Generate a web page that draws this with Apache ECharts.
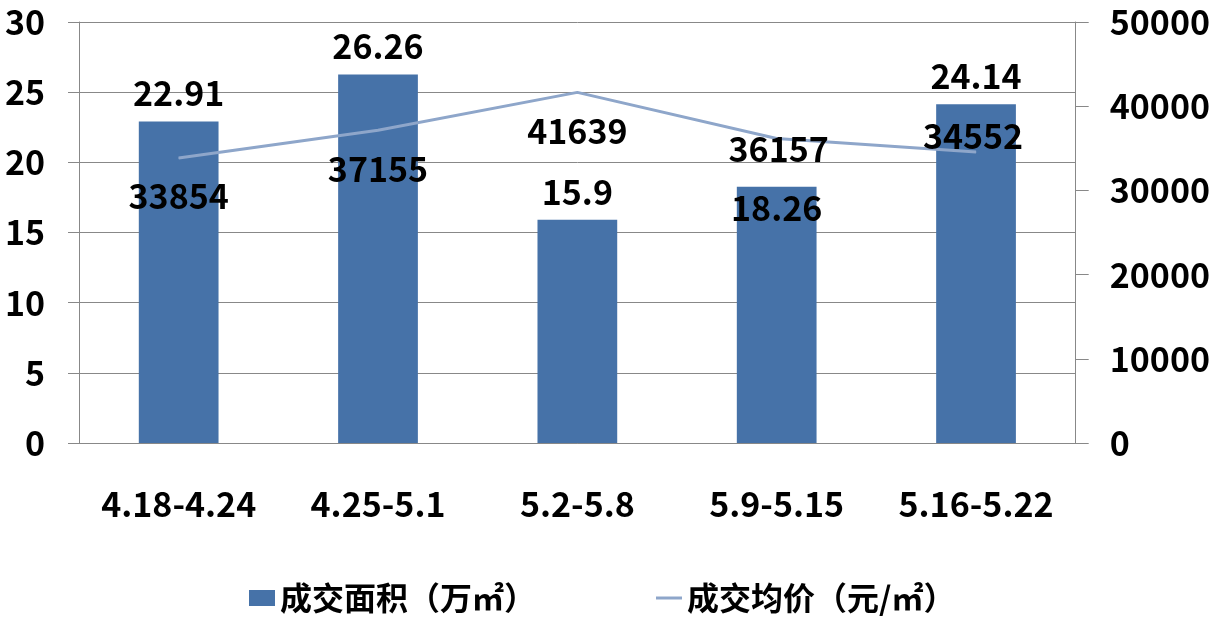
<!DOCTYPE html>
<html>
<head>
<meta charset="utf-8">
<script src="https://cdn.jsdelivr.net/npm/echarts@6/dist/echarts.min.js"></script>
<style>
html, body { margin: 0; padding: 0; background: #fff; }
#chart { width: 1213px; height: 639px; }
</style>
</head>
<body>
<div id="chart"></div>
<script>
// 周期
var weeks = ['4.18-4.24', '4.25-5.1', '5.2-5.8', '5.9-5.15', '5.16-5.22'];
// 成交面积（万㎡）
var areaVals = [22.91, 26.26, 15.9, 18.26, 24.14];
// 成交均价（元/㎡）
var priceVals = [33854, 37155, 41639, 36157, 34552];

var FONT = '"Noto Sans CJK SC", "Noto Sans", sans-serif';
var txt = { color: '#000', fontSize: 34, fontWeight: 'bold', fontFamily: FONT };

var chart = echarts.init(document.getElementById('chart'));

// 标签位置微调
var barData = areaVals.map(function (v, i) {
  if (i === 3) {
    return { value: v, label: { position: 'insideTop', distance: 4 } };
  }
  return v;
});
var lineData = priceVals.map(function (v, i) {
  if (i === 3) return { value: v, label: { position: 'inside', offset: [2, 11] } };
  if (i === 4) return { value: v, label: { position: 'inside', offset: [-3, -16] } };
  return v;
});

var option = {
  backgroundColor: '#fff',
  animation: false,
  grid: { left: 79, right: 135, top: 22, bottom: 196 },
  legend: {
    left: 244,
    top: 577,
    itemWidth: 26,
    itemHeight: 16,
    itemGap: 120,
    itemTextGap: 4,
    textStyle: { color: '#000', fontSize: 32, fontWeight: 'bold', fontFamily: FONT },
    data: [
      { name: '成交面积（万㎡）', icon: 'rect' },
      { name: '成交均价（元/㎡）', icon: 'path://M0,0H26V3H0Z' }
    ]
  },
  xAxis: {
    type: 'category',
    data: weeks,
    axisLine: { lineStyle: { color: '#888' } },
    axisTick: { length: 12, lineStyle: { color: '#888' } },
    axisLabel: Object.assign({ margin: 44, interval: 0 }, txt)
  },
  yAxis: [{
    type: 'value',
    min: 0, max: 30, interval: 5,
    axisLine: { show: true, lineStyle: { color: '#888' } },
    axisTick: { show: true, length: 11, lineStyle: { color: '#888' } },
    splitLine: { lineStyle: { color: '#888', width: 1 } },
    axisLabel: Object.assign({ margin: 34 }, txt)
  }, {
    type: 'value',
    min: 0, max: 50000, interval: 10000,
    axisLine: { show: true, lineStyle: { color: '#888' } },
    axisTick: { show: true, length: 13, lineStyle: { color: '#888' } },
    splitLine: { show: false },
    axisLabel: Object.assign({ margin: 34, formatter: function (v) { return String(v); } }, txt)
  }],
  series: [{
    name: '成交面积（万㎡）',
    type: 'bar',
    barWidth: '40%',
    itemStyle: { color: '#4672A8' },
    label: Object.assign({ show: true, position: 'top', distance: 11 }, txt),
    data: barData
  }, {
    name: '成交均价（元/㎡）',
    type: 'line',
    yAxisIndex: 1,
    symbol: 'circle',
    symbolSize: 1,
    lineStyle: { color: '#8EA6CA', width: 3 },
    itemStyle: { color: '#8EA6CA' },
    label: Object.assign({ show: true, position: 'bottom', distance: 21 }, txt),
    data: lineData,
    z: 3
  }]
};

chart.setOption(option);
</script>
</body>
</html>
